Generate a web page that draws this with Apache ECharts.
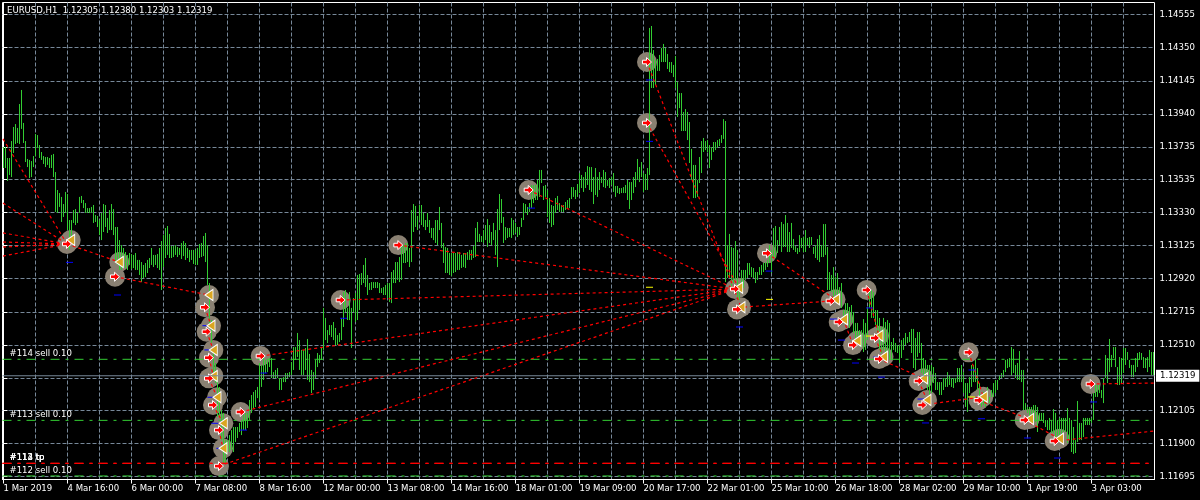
<!DOCTYPE html>
<html><head><meta charset="utf-8">
<style>html,body{margin:0;padding:0;background:#000}#c{width:1200px;height:500px}</style>
<script src="https://cdn.jsdelivr.net/npm/echarts@6/dist/echarts.min.js"></script>
</head><body><div id="c"></div>
<script>
// Prices are in points: price = 1 + points / 100000. Each bar is [high, low].
const barsWeek1 = [[13735,13605],[13735,13605],[13667,13525],[13667,13562],[13772,13549],[13859,13698],[13877,13754],[13853,13760],[14001,13754],[14088,13847],[13884,13760],[13772,13642],[13661,13611],[13655,13543],[13648,13549],[13679,13611],[13816,13679],[13809,13729],[13747,13667],[13704,13655],[13679,13630],[13673,13611],[13673,13624],[13667,13605],[13686,13605],[13692,13549],[13580,13333],[13469,13327],[13450,13364],[13426,13271],[13382,13302],[13457,13327],[13444,13221],[13283,13098],[13283,13159],[13345,13265],[13351,13252],[13327,13265],[13426,13327],[13432,13388],[13407,13357],[13388,13327],[13357,13327],[13357,13327],[13364,13327],[13376,13265],[13314,13271],[13308,13240],[13283,13190],[13327,13159],[13382,13209],[13376,13240],[13296,13203],[13345,13221],[13382,13221],[13351,13190],[13240,13023],[13240,13005],[13159,12974]];
const barsWeek2 = [[13128,12974],[13110,12986],[13085,12986],[13067,12974],[13079,13005],[13073,12980],[13067,12986],[13079,12974],[13036,12974],[13036,12943],[13023,12899],[13005,12924],[13017,12930],[13036,12955],[13048,12986],[13110,13005],[13067,12992],[13067,13005],[13073,12986],[13110,12974],[13153,12850],[13190,12992],[13234,13048],[13246,13067],[13197,13048],[13122,13048],[13122,13054],[13128,13067],[13116,13054],[13110,13067],[13141,13042],[13153,13060],[13141,13036],[13110,13048],[13098,13023],[13098,13036],[13098,13011],[13098,13005],[13110,13005],[13135,13048],[13141,13054],[13184,13060],[13203,13023],[13128,12881],[12893,12621],[12664,12522],[12479,12336],[12398,12274],[12311,12064],[12250,12058],[12107,11921],[12089,11779],[11921,11779],[11921,11847],[11952,11847],[11983,11859],[12002,11847],[12002,11909],[12002,11934],[12027,11971],[12045,11952],[12076,11983],[12089,11983],[12089,11996],[12169,12045],[12200,12089],[12219,12119],[12231,12126],[12250,12181],[12398,12169],[12386,12250],[12435,12293],[12417,12336],[12417,12342],[12429,12373],[12429,12305],[12342,12305],[12355,12305],[12367,12305],[12305,12231],[12305,12231],[12311,12280],[12336,12280],[12336,12305],[12342,12311],[12404,12324],[12497,12355],[12497,12417],[12584,12435],[12540,12355]];
const barsWeek3 = [[12479,12324],[12479,12324],[12491,12355],[12547,12293],[12454,12280],[12355,12212],[12342,12231],[12417,12305],[12460,12373],[12448,12398],[12497,12417],[12739,12479],[12677,12540],[12602,12522],[12633,12571],[12633,12559],[12652,12540],[12615,12509],[12571,12509],[12584,12528],[12677,12540],[12838,12621],[12850,12714],[12739,12664],[12838,12664],[12739,12491],[12800,12714],[12831,12652],[12943,12664],[12949,12726],[12955,12881],[13005,12893],[13048,12868],[12943,12819],[12893,12850],[12899,12850],[12899,12862],[12899,12862],[12899,12862],[12893,12831],[12862,12831],[12868,12819],[12881,12819],[12893,12800],[12893,12776],[12961,12769],[12974,12893],[13023,12893],[13023,12912],[13054,12899],[13122,12912],[13128,13017],[13141,13017],[13141,13023],[13110,12992],[13345,13023],[13382,13209],[13370,13240],[13308,13221],[13376,13283],[13376,13252],[13327,13240],[13283,13221],[13327,13240],[13283,13203],[13234,13172],[13234,13159],[13283,13141],[13283,13128],[13364,13221],[13265,13110],[13141,13017],[13116,12955],[13110,12955],[13079,12943],[13079,12937],[13079,12955],[13079,12961],[13085,12974],[13085,12974],[13067,12986],[13079,12992],[13079,12986],[13085,13036],[13098,13036],[13098,13036],[13122,13048],[13234,13054],[13271,13147],[13197,13147],[13184,13147],[13221,13141],[13252,13159],[13289,13116],[13252,13141],[13209,13128],[13265,13159],[13221,13067],[13351,12992],[13444,13221],[13413,13265],[13302,13141],[13240,13159],[13234,13172],[13234,13178],[13296,13172],[13283,13190],[13265,13203],[13240,13178],[13240,13190],[13296,13240],[13388,13283],[13382,13327],[13364,13314],[13388,13333],[13500,13357],[13500,13388],[13500,13407],[13531,13407],[13593,13426],[13593,13512],[13494,13407],[13500,13426],[13469,13302],[13419,13265],[13376,13240],[13370,13252],[13419,13327],[13432,13345],[13388,13333],[13376,13333],[13376,13333],[13395,13345],[13407,13357],[13419,13357],[13487,13413],[13487,13426],[13469,13413],[13506,13426],[13574,13450],[13562,13481],[13549,13457],[13580,13481],[13617,13500],[13611,13469],[13611,13457],[13549,13382],[13605,13438],[13549,13426],[13580,13469]];
const barsWeek4 = [[13549,13512],[13593,13487],[13580,13481],[13531,13494],[13543,13481],[13549,13500],[13574,13457],[13494,13426],[13494,13450],[13481,13444],[13481,13450],[13487,13450],[13500,13450],[13531,13407],[13518,13351],[13518,13407],[13549,13450],[13580,13487],[13661,13531],[13611,13518],[13642,13549],[13574,13457],[13568,13469],[13605,13469],[14472,13562],[14484,14100],[14335,14100],[14274,14119],[14280,14206],[14305,14206],[14348,14261],[14373,14261],[14348,14261],[14311,14218],[14261,14199],[14261,14193],[14243,14168],[14298,14100],[14137,13921],[14069,13976],[14069,13834],[13952,13834],[13970,13834],[13952,13778],[13890,13636],[13723,13531],[13624,13419],[13624,13419],[13531,13426],[13673,13512],[13772,13574],[13791,13704],[13772,13716],[13778,13704],[13747,13605],[13735,13655],[13766,13704],[13766,13716],[13778,13729],[13785,13741],[13809,13760],[13908,13785],[13896,12899],[13128,12924],[13197,12930],[13116,12868],[13110,12893],[13153,12912],[13098,12788],[12893,12788],[12974,12893],[12974,12862],[12974,12912],[13017,12924],[13017,12943],[12992,12930],[12986,12924],[12961,12893],[12961,12912],[12992,12943],[13005,12943],[13017,12961],[13023,12974],[13036,12992],[13128,13017],[13098,12955],[13234,13048],[13246,13048],[13159,13079],[13240,13128],[13271,13085],[13258,13116],[13314,13116],[13265,13085],[13209,13085],[13265,13110],[13166,13098],[13122,13085],[13110,13073],[13190,13085],[13172,13110],[13178,13085],[13221,13085],[13172,13128],[13178,13110],[13178,13128],[13116,13073],[13128,13048],[13166,13036],[13190,13023],[13128,13054],[13258,13054],[13258,13067],[13116,12850],[12961,12850],[12943,12838],[12992,12788],[12930,12819],[12955,12788],[12868,12788],[12893,12739],[12726,12664],[12769,12646],[12769,12664],[12745,12615],[12757,12646],[12714,12584],[12646,12497],[12646,12522],[12602,12509],[12602,12497],[12670,12466],[12646,12479],[12745,12540],[12838,12739],[12850,12677],[12838,12677],[12726,12633],[12726,12584],[12677,12479],[12621,12460],[12677,12479],[12652,12435],[12664,12460],[12646,12417],[12528,12417],[12553,12479],[12522,12466],[12509,12460],[12509,12398]];
const barsWeek5 = [[12540,12429],[12553,12479],[12584,12509],[12559,12522],[12590,12528],[12609,12460],[12609,12367],[12553,12355],[12590,12435],[12590,12460],[12522,12336],[12429,12305],[12417,12274],[12386,12231],[12386,12188],[12386,12212],[12373,12274],[12336,12231],[12280,12231],[12280,12200],[12280,12200],[12305,12231],[12305,12250],[12342,12250],[12324,12262],[12305,12250],[12305,12243],[12305,12274],[12367,12280],[12367,12280],[12386,12280],[12342,12212],[12274,12126],[12274,12095],[12311,12212],[12386,12250],[12386,12280],[12417,12280],[12367,12231],[12274,12150],[12200,12126],[12219,12138],[12212,12126],[12250,12150],[12188,12150],[12231,12188],[12274,12188],[12293,12212],[12293,12231],[12324,12293],[12336,12305],[12355,12311],[12417,12342],[12423,12367],[12429,12373],[12497,12318],[12485,12336],[12386,12305],[12398,12293],[12472,12293],[12355,12280],[12355,12107],[12150,12107],[12126,12089],[12126,12064],[12126,12058],[12138,12045],[12138,12033],[12126,11971],[12089,12045],[12089,12045],[12089,12027],[12045,12002],[12045,11983],[12058,11983],[12045,11965],[12113,11965],[12089,11934],[12045,11921],[12058,11952],[12058,11952],[12058,11971],[12058,11971],[12119,11903],[12058,11921],[12045,11847],[12002,11835],[11921,11841],[12163,11909],[12027,11921],[12027,11921],[12058,11940],[12058,12014],[12058,12014],[12058,12014],[12058,12027],[12212,12045],[12262,12188],[12262,12188],[12262,12212],[12231,12181],[12305,12150],[12448,12305],[12429,12274],[12547,12342],[12448,12373],[12497,12429],[12497,12373],[12373,12262],[12435,12262],[12429,12274],[12491,12336],[12491,12386],[12466,12417],[12417,12367],[12386,12311],[12386,12311],[12429,12342],[12460,12373],[12466,12417],[12460,12417],[12435,12367],[12429,12367],[12435,12342],[12479,12373],[12466,12324],[12466,12324]];

// [bar index, price points]
const entryArrows = [[31.75,13135],[55.75,12932],[100.75,12743],[101.6,12592],[102.75,12431],[102.75,12303],[104.75,12138],[107.75,11983],[107.75,11760],[118.6,12095],[128.6,12441],[168.6,12788],[197.4,13128],[262.6,13469],[321.75,14261],[321.75,13884],[365.75,12856],[366.75,12730],[381.75,13077],[413.6,12782],[417.6,12652],[424.75,12509],[431.6,12850],[435.75,12553],[437.75,12423],[457.6,12287],[459.4,12138],[482.6,12464],[487.6,12167],[510.6,12045],[525.6,11915],[543.6,12268]];
const exitTriangles = [[33.6,13159],[57.9,13023],[102.75,12819],[103.75,12629],[104.9,12479],[104.9,12318],[106.75,12186],[109.9,12025],[109.75,11870],[367.6,12864],[368.75,12743],[416,12792],[420,12668],[426.75,12536],[437.75,12567],[440,12437],[460,12303],[461.75,12169],[489.9,12189],[513,12051],[528,11929]];
// [bar index from, price from, bar index to, price to]
const tradeLines = [[-0.25,13785,31.75,13135],[-0.25,13388,31.75,13135],[-0.25,13203,31.75,13135],[-0.25,13147,31.75,13135],[-0.25,13116,31.75,13135],[-0.25,13060,31.75,13135],[31.75,13135,57.9,13023],[55.75,12932,102.75,12819],[100.75,12743,103.75,12629],[101.6,12592,104.9,12479],[102.75,12431,104.9,12318],[102.75,12303,106.75,12186],[104.75,12138,109.9,12025],[107.75,11983,109.75,11870],[107.75,11760,365.75,12856],[118.6,12095,365.75,12856],[128.6,12441,365.75,12856],[168.6,12788,365.75,12856],[197.4,13128,365.75,12856],[262.6,13469,365.75,12856],[321.75,13884,367.6,12864],[321.75,14261,368.75,12743],[381.75,13077,416,12792],[413.6,12782,368.75,12743],[420,12668,424.75,12509],[431.6,12850,437.75,12567],[435.75,12553,440,12437],[437.75,12423,460,12303],[457.6,12287,461.75,12169],[459.4,12138,489.9,12189],[482.6,12464,489.9,12189],[487.6,12167,513,12051],[510.6,12045,528,11929],[525.6,11915,575.5,11977],[543.6,12268,575.5,12274]];
const blueDashes = [[33,13021],[57,12819],[101.2,12629],[102.2,12479],[103.7,12186],[105.7,12025],[108.2,11870],[120,11983],[130.2,12336],[170,12675],[264,13357],[323,14150],[323,13770],[368,12621],[382.75,12967],[415,12670],[419,12540],[426,12398],[433,12739],[436.75,12435],[439,12311],[458.75,12175],[461,12027],[484.25,12355],[489,12053],[512,11934],[527,11810],[545,12157]];
const yellowDashes = [[323,12867],[383,12792],[433,12565],[484,12188]];

const priceTicks = ['1.14555','1.14350','1.14145','1.13940','1.13735','1.13535','1.13330','1.13125','1.12920','1.12715','1.12510','1.12305','1.12105','1.11900','1.11695'];
const timeTicks = ['1 Mar 2019','4 Mar 16:00','6 Mar 00:00','7 Mar 08:00','8 Mar 16:00','12 Mar 00:00','13 Mar 08:00','14 Mar 16:00','18 Mar 01:00','19 Mar 09:00','20 Mar 17:00','22 Mar 01:00','25 Mar 10:00','26 Mar 18:00','28 Mar 02:00','29 Mar 10:00','1 Apr 19:00','3 Apr 03:00'];
const headerText = 'EURUSD,H1  1.12305 1.12380 1.12303 1.12319';
const lastPrice = 1.12319;
const orderLines = [
  {price:1.12421,color:'#32cd32',text:'#114 sell 0.10'},
  {price:1.12043,color:'#32cd32',text:'#113 sell 0.10'},
  {price:1.11777,color:'#ff0000',text:'#112 tp'},
  {price:1.11777,color:'#ff0000',text:'#113 tp'},
  {price:1.11777,color:'#ff0000',text:'#114 tp'},
  {price:1.11699,color:'#32cd32',text:'#112 sell 0.10'}
];

const FONT = '"DejaVu Sans Condensed","Noto Sans",sans-serif';
const FS = 9.5;
const GRID = '#778899', BAR = '#32cd32';
const P = v => 1 + v / 100000;
const bars = [...barsWeek1, ...barsWeek2, ...barsWeek3, ...barsWeek4, ...barsWeek5];
const toPoint = d => [d[0], P(d[1])];
const minorX = [], labelX = [];
for (let i = 0; i <= 36; i++) minorX.push(i * 16);
timeTicks.forEach((_, i) => labelX.push(i * 32));
const tickVals = priceTicks.map(Number);
const labelVals = tickVals.filter(v => v !== 1.12305);

const ARROW = 'path://M0 3H4V0L9 5L4 10V7H0Z';
const TRI = 'path://M8 0V12L0 6Z';

const tradeData = [];
tradeLines.forEach(t => { tradeData.push([t[0], P(t[1])], [t[2], P(t[3])], [null, null]); });

const orderSeries = orderLines.map(o => ({
  type:'line',z:3,silent:true,symbol:'none',
  lineStyle:{color:o.color,width:1,type:[9,6,3,6]},
  data:[[-0.5,o.price],[575.5,o.price]]
}));

const chart = echarts.init(document.getElementById('c'), null, {renderer:'canvas', width:1200, height:500});
chart.setOption({
  animation:false,
  backgroundColor:'#000',
  textStyle:{fontFamily:FONT},
  title:{text:headerText,left:7,top:6,padding:0,textStyle:{color:'#fff',fontSize:FS,fontWeight:'normal',fontFamily:FONT}},
  grid:{left:2.5,top:2.5,width:1152,height:477,show:true,borderColor:'#fff',borderWidth:1,backgroundColor:'#000',outerBoundsMode:'none'},
  xAxis:[
    {type:'value',min:-0.5,max:575.5,position:'bottom',
     axisLine:{show:false},axisLabel:{show:false},
     axisTick:{show:false,customValues:minorX},
     splitLine:{show:true,lineStyle:{color:GRID,type:[4,2],width:1}}},
    {type:'value',min:-0.5,max:575.5,position:'bottom',
     axisLine:{show:true,lineStyle:{color:'#fff',width:1}},
     axisTick:{show:true,length:4,lineStyle:{color:'#fff'},customValues:labelX},
     axisLabel:{show:true,customValues:labelX,color:'#fff',fontSize:FS,fontFamily:FONT,align:'left',margin:4,
       formatter:v=>timeTicks[Math.round(v/32)]},
     splitLine:{show:false}}
  ],
  yAxis:{type:'value',position:'right',min:1.116770,max:1.146295,
    axisLine:{show:true,lineStyle:{color:'#fff',width:1}},
    axisTick:{show:true,length:4,lineStyle:{color:'#fff'},customValues:tickVals},
    axisLabel:{show:true,customValues:labelVals,color:'#fff',fontSize:FS,fontFamily:FONT,margin:5,formatter:v=>v.toFixed(5)},
    splitLine:{show:true,lineStyle:{color:GRID,type:[4,2],width:1}}},
  series:[
    {type:'scatter',name:'halo',z:2,silent:true,symbol:'circle',symbolSize:20,
     itemStyle:{color:'#8a8072',opacity:1},data:entryArrows.concat(exitTriangles).map(toPoint)},
    {type:'custom',name:'bars',z:3,silent:true,clip:true,
     data:bars.map((b,i)=>[i,P(b[0]),P(b[1])]),
     encode:{x:0,y:[1,2]},
     renderItem:(params,api)=>{
       const a=api.coord([api.value(0),api.value(1)]),b=api.coord([api.value(0),api.value(2)]);
       return {type:'line',shape:{x1:a[0],y1:a[1],x2:b[0],y2:b[1]},style:{stroke:BAR,lineWidth:1,fill:null}};
     }},
    ...orderSeries,
    {type:'scatter',name:'orderText',z:7,silent:true,symbolSize:1,itemStyle:{color:'transparent',opacity:1},
     data:orderLines.map(o=>({value:[3,o.price],label:{show:true,formatter:o.text,position:'top',align:'left',distance:0,color:'#fff',fontSize:FS,fontFamily:FONT}}))},
    {type:'line',name:'last',z:6,silent:true,symbol:'none',
     lineStyle:{color:GRID,type:'solid',width:1},data:[[-0.5,lastPrice],[575.5,lastPrice]]},
    {type:'scatter',name:'lastTag',z:8,silent:true,symbolSize:1,itemStyle:{color:'transparent',opacity:1},clip:false,
     data:[{value:[575.5,lastPrice],label:{show:true,formatter:lastPrice.toFixed(5),position:'right',distance:1,color:'#000',backgroundColor:'#fff',fontSize:FS,fontFamily:FONT,padding:[0,4,0,4],lineHeight:12}}]},
    {type:'line',name:'trades',z:4,silent:true,symbol:'none',connectNulls:false,
     lineStyle:{color:'#ff0000',width:1.2,type:[3,3]},data:tradeData},
    {type:'scatter',name:'blue',z:4,silent:true,symbol:'rect',symbolSize:[7,1],itemStyle:{color:'#0000ff',opacity:1},data:blueDashes.map(toPoint)},
    {type:'scatter',name:'yellow',z:4,silent:true,symbol:'rect',symbolSize:[7,1],itemStyle:{color:'#ffff00',opacity:1},data:yellowDashes.map(toPoint)},
    {type:'scatter',name:'exit',z:5,silent:true,symbol:TRI,symbolSize:[8,11],
     itemStyle:{color:'#daa520',borderColor:'#fff',borderWidth:1,opacity:1},data:exitTriangles.map(toPoint)},
    {type:'scatter',name:'entry',z:5,silent:true,symbol:ARROW,symbolSize:[9,9],
     itemStyle:{color:'#ff0000',borderColor:'#fff',borderWidth:1,opacity:1},data:entryArrows.map(toPoint)}
  ]
});
</script></body></html>
